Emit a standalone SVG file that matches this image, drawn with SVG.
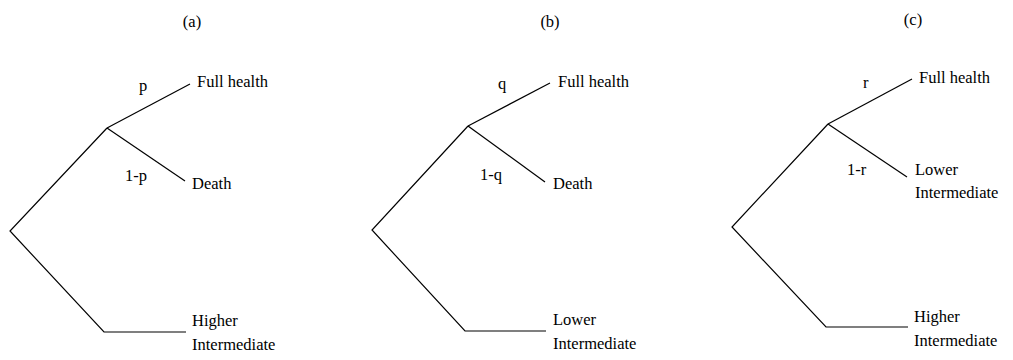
<svg xmlns="http://www.w3.org/2000/svg" width="1013" height="360" viewBox="0 0 1013 360">
<style>
text{font-family:'Liberation Serif','DejaVu Serif','Times New Roman',serif;font-size:16.5px;fill:#000}
.t{text-anchor:middle}
line,polyline{stroke:#000;stroke-width:1.2;fill:none}
</style>
<rect width="1013" height="360" fill="#fff"/>
<g id="connectors">
<polyline points="107,128 10,231 104,332 186,332"/>
<line x1="107" y1="128" x2="190" y2="84"/>
<line x1="107" y1="128" x2="185" y2="181"/>
<polyline points="468,126 372,230 465,331 546,331"/>
<line x1="468" y1="126" x2="550" y2="83"/>
<line x1="468" y1="126" x2="545" y2="182"/>
<polyline points="828,124 732,227 826,327 908,327"/>
<line x1="828" y1="124" x2="912" y2="79"/>
<line x1="828" y1="124" x2="907" y2="177"/>
</g>
<g id="title-a"><text class="t" x="192" y="27">(a)</text></g>
<g id="title-b"><text class="t" x="550" y="27">(b)</text></g>
<g id="title-c"><text class="t" x="913" y="25">(c)</text></g>
<g id="a-labels"><text x="139" y="91">p</text><text x="125" y="181">1-p</text></g>
<g id="a-full"><text x="197" y="87">Full health</text></g>
<g id="a-death"><text x="192" y="189">Death</text></g>
<g id="a-higher"><text x="192" y="326">Higher</text><text x="192" y="350">Intermediate</text></g>
<g id="b-labels"><text x="498" y="89">q</text><text x="480" y="180">1-q</text></g>
<g id="b-full"><text x="558" y="87">Full health</text></g>
<g id="b-death"><text x="553" y="189">Death</text></g>
<g id="b-lower"><text x="553" y="325">Lower</text><text x="553" y="349">Intermediate</text></g>
<g id="c-labels"><text x="863" y="88">r</text><text x="847" y="175">1-r</text></g>
<g id="c-full"><text x="919" y="83">Full health</text></g>
<g id="c-lower"><text x="915" y="175">Lower</text><text x="915" y="198">Intermediate</text></g>
<g id="c-higher"><text x="914" y="322">Higher</text><text x="914" y="346">Intermediate</text></g>
</svg>
